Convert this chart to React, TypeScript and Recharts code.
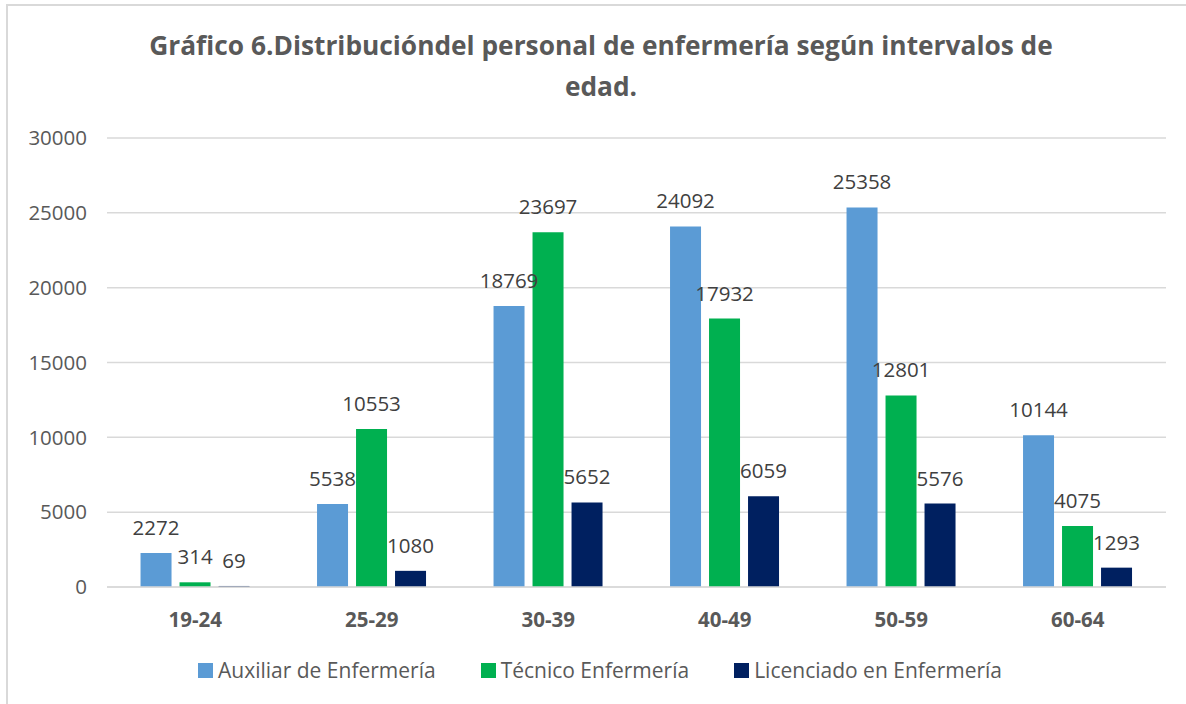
import { Bar, BarChart, CartesianGrid, LabelList, Legend, XAxis, YAxis } from 'recharts';

const AGE_GROUPS = ['19-24', '25-29', '30-39', '40-49', '50-59', '60-64'];
const AUXILIAR = [2272, 5538, 18769, 24092, 25358, 10144];
const TECNICO = [314, 10553, 23697, 17932, 12801, 4075];
const LICENCIADO = [69, 1080, 5652, 6059, 5576, 1293];
const Y_TICKS = [0, 5000, 10000, 15000, 20000, 25000, 30000];

const SERIES = [
  { key: 'auxiliar', name: 'Auxiliar de Enfermería', color: '#5B9BD5' },
  { key: 'tecnico', name: 'Técnico Enfermería', color: '#00B050' },
  { key: 'licenciado', name: 'Licenciado en Enfermería', color: '#002060' },
];

const data = AGE_GROUPS.map((age, i) => ({
  age,
  auxiliar: AUXILIAR[i],
  tecnico: TECNICO[i],
  licenciado: LICENCIADO[i],
}));

const FONT = '"Open Sans", sans-serif';

// keep series order (recharts would sort legend items by name)
function LegendRow() {
  return (
    <div
      style={{
        display: 'flex',
        justifyContent: 'center',
        alignItems: 'center',
        gap: 45,
        height: 30,
        fontFamily: FONT,
        fontSize: 21,
        color: '#595959',
      }}
    >
      {SERIES.map((s) => (
        <div key={s.key} style={{ display: 'flex', alignItems: 'center' }}>
          <span style={{ width: 15, height: 15, background: s.color, marginRight: 5, display: 'inline-block' }} />
          {s.name}
        </div>
      ))}
    </div>
  );
}

export default function App() {
  return (
    <div
      style={{
        position: 'absolute',
        left: 0,
        top: 0,
        width: 1186,
        height: 704,
        overflow: 'hidden',
        background: '#fff',
      }}
    >
      <div
        style={{
          position: 'absolute',
          left: 6,
          top: 4,
          width: 1300,
          height: 800,
          borderLeft: '2px solid #d9d9d9',
          borderTop: '2px solid #d9d9d9',
        }}
      />
      <div
        style={{
          position: 'absolute',
          left: 0,
          top: 25,
          width: 1202,
          textAlign: 'center',
          fontFamily: FONT,
          fontWeight: 700,
          fontSize: 26.3,
          lineHeight: '41px',
          color: '#595959',
        }}
      >
        Gráfico 6.Distribucióndel personal de enfermería según intervalos de
        <br />
        edad.
      </div>
      <BarChart
        width={1186}
        height={704}
        data={data}
        margin={{ top: 138, right: 20, left: 0, bottom: 47 }}
        barCategoryGap="19%"
        barGap={8}
        style={{ position: 'absolute', left: 0, top: 0 }}
      >
        <CartesianGrid vertical={false} stroke="#d9d9d9" strokeWidth={1.5} />
        <XAxis
          dataKey="age"
          height={40}
          tickLine={false}
          tickSize={0}
          tickMargin={25}
          axisLine={{ stroke: '#d9d9d9', strokeWidth: 1.5 }}
          tick={{ fill: '#595959', fontSize: 20.5, fontWeight: 700, fontFamily: FONT }}
        />
        <YAxis
          domain={[0, 30000]}
          ticks={Y_TICKS}
          width={107}
          axisLine={false}
          tickLine={false}
          tickSize={0}
          tickMargin={20}
          tick={{ fill: '#595959', fontSize: 20.5, fontFamily: FONT }}
        />
        <Legend
          content={<LegendRow />}
          verticalAlign="bottom"
          wrapperStyle={{ top: 655, left: 5, width: 1190, height: 30 }}
        />
        {SERIES.map((s) => (
          <Bar key={s.key} dataKey={s.key} name={s.name} fill={s.color} isAnimationActive={false}>
            <LabelList
              dataKey={s.key}
              position="top"
              offset={18}
              fill="#404040"
              fontSize={20.5}
              fontFamily={FONT}
            />
          </Bar>
        ))}
      </BarChart>
    </div>
  );
}
